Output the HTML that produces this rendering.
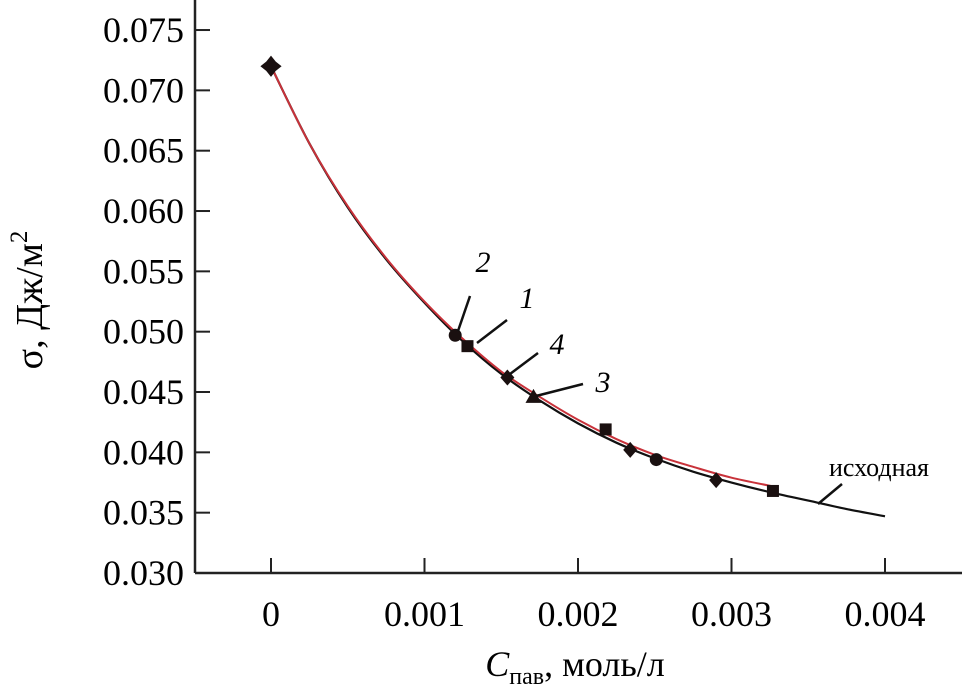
<!DOCTYPE html>
<html><head><meta charset="utf-8"><style>
html,body{margin:0;padding:0;background:#fff;}
svg{display:block;font-family:"Liberation Serif",serif;}
</style></head><body>
<svg id="chart" width="964" height="697" viewBox="0 0 964 697">
<g id="axes"></g>
<g id="curves"></g>
<g id="markers"></g>
<g id="annot"></g>
<text x="42" y="300" font-size="38" text-anchor="middle" transform="rotate(-90 42 300)">σ, Дж/м<tspan font-size="25" dy="-15">2</tspan></text>
<text x="575" y="676" font-size="36" text-anchor="middle"><tspan font-style="italic">C</tspan><tspan font-size="24" dy="8">пав</tspan><tspan dy="-8">, моль/л</tspan></text>
</svg>
<script>
const xTicks=[0,0.001,0.002,0.003,0.004];
const xTickLabels=["0","0.001","0.002","0.003","0.004"];
const yTicks=[0.030,0.035,0.040,0.045,0.050,0.055,0.060,0.065,0.070,0.075];
const yTickLabels=["0.030","0.035","0.040","0.045","0.050","0.055","0.060","0.065","0.070","0.075"];
const baseX=[0,0.00025,0.0005,0.00075,0.001,0.00125,0.0015,0.00175,0.002,0.00225,0.0025,0.00275,0.003,0.00325,0.0035,0.00375,0.004];
const baseY=[0.0720,0.0656,0.0603,0.0560,0.0524,0.0492,0.0465,0.0443,0.0424,0.0408,0.0395,0.0384,0.0375,0.0367,0.0360,0.0353,0.0347];
const redX=[0,0.00025,0.0005,0.00075,0.001,0.00125,0.0015,0.00175,0.002,0.00225,0.0025,0.00275,0.003,0.0033];
const redY=[0.0720,0.0656,0.0604,0.0561,0.0525,0.0494,0.0467,0.0446,0.0427,0.0411,0.0398,0.0388,0.0379,0.0371];
const ptX=[0,0.00120,0.00128,0.00154,0.00171,0.00218,0.00234,0.00251,0.00290,0.00327];
const ptY=[0.0720,0.0497,0.0488,0.0462,0.0446,0.0419,0.0402,0.0394,0.0377,0.0368];
const ptShape=["star","circle","square","diamond","triangle","square","diamond","circle","diamond","square"];

const NS="http://www.w3.org/2000/svg";
const X0=195,XR=962,Y0=573;
function sx(v){return 271+v*153500;}
function sy(v){return 573-(v-0.030)/0.005*60.33;}
function mk(tag,attrs,parent){const e=document.createElementNS(NS,tag);for(const k in attrs)e.setAttribute(k,attrs[k]);parent.appendChild(e);return e;}
const axes=document.getElementById('axes');
let l=mk('line',{x1:X0,y1:Y0,x2:XR,y2:Y0,stroke:'#222','stroke-width':2.5},axes);


l=mk('line',{x1:X0,y1:0,x2:X0,y2:Y0,stroke:'#222','stroke-width':2.5},axes);


xTicks.forEach((v,i)=>{
 const t=mk('line',{x1:sx(v),y1:Y0,x2:sx(v),y2:Y0-15,stroke:'#222','stroke-width':2},axes);
 
 
 const tx=mk('text',{x:sx(v),y:626,'font-size':36,'text-anchor':'middle'},axes);
 tx.textContent=xTickLabels[i];
 
 
});
yTicks.forEach((v,i)=>{
 const t=mk('line',{x1:X0,y1:sy(v),x2:X0+15,y2:sy(v),stroke:'#222','stroke-width':2},axes);
 
 
 const tx=mk('text',{x:184,y:sy(v)+12,'font-size':36,'text-anchor':'end'},axes);
 tx.textContent=yTickLabels[i];
 
 
});
function smooth(xs,ys){
 const p=xs.map((x,i)=>[sx(x),sy(ys[i])]);
 let d='M'+p[0][0]+','+p[0][1];
 for(let i=0;i<p.length-1;i++){
  const a=p[Math.max(0,i-1)],b=p[i],c=p[i+1],e=p[Math.min(p.length-1,i+2)];
  d+=' C'+(b[0]+(c[0]-a[0])/6)+','+(b[1]+(c[1]-a[1])/6)+' '+(c[0]-(e[0]-b[0])/6)+','+(c[1]-(e[1]-b[1])/6)+' '+c[0]+','+c[1];
 }
 return d;
}
const curves=document.getElementById('curves');
let c=mk('path',{d:smooth(baseX,baseY),fill:'none',stroke:'#111','stroke-width':2.2},curves);


c=mk('path',{d:smooth(redX,redY),fill:'none',stroke:'#c8323a','stroke-width':2},curves);


const mg=document.getElementById('markers');
ptX.forEach((x,i)=>{
 const X=sx(x),Y=sy(ptY[i]),s=ptShape[i];let m;
 if(s==='circle')m=mk('circle',{cx:X,cy:Y,r:6.5,fill:'#1a1010'},mg);
 else if(s==='star')m=mk('polygon',{points:`${X},${Y-9} ${X+4},${Y-4} ${X+9},${Y} ${X+4},${Y+4} ${X},${Y+9} ${X-4},${Y+4} ${X-9},${Y} ${X-4},${Y-4}`,fill:'#1a1010',stroke:'#1a1010','stroke-width':2},mg);
 else if(s==='square')m=mk('rect',{x:X-6,y:Y-6,width:12,height:12,fill:'#1a1010'},mg);
 else if(s==='diamond')m=mk('polygon',{points:`${X},${Y-8} ${X+7},${Y} ${X},${Y+8} ${X-7},${Y}`,fill:'#1a1010'},mg);
 else m=mk('polygon',{points:`${X},${Y-8} ${X+8},${Y+6} ${X-8},${Y+6}`,fill:'#1a1010'},mg);
 
 
});
const an=document.getElementById('annot');
[["2",483,272,470,296,458,331],["1",527,308,507,320,477,343],["4",557,354,538,353,510,374],["3",603,392,583,384,536,396]].forEach(a=>{
 const t=mk('text',{x:a[1],y:a[2],'font-size':30,'font-style':'italic','text-anchor':'middle'},an);
 t.textContent=a[0];
 
 
 const ln=mk('line',{x1:a[3],y1:a[4],x2:a[5],y2:a[6],stroke:'#111','stroke-width':2.5},an);
 
 
});
const it=mk('text',{x:829,y:476,'font-size':26,'text-anchor':'start'},an);
it.textContent='исходная';


const il=mk('line',{x1:842,y1:484,x2:818,y2:504,stroke:'#111','stroke-width':2.5},an);


</script>
</body></html>
